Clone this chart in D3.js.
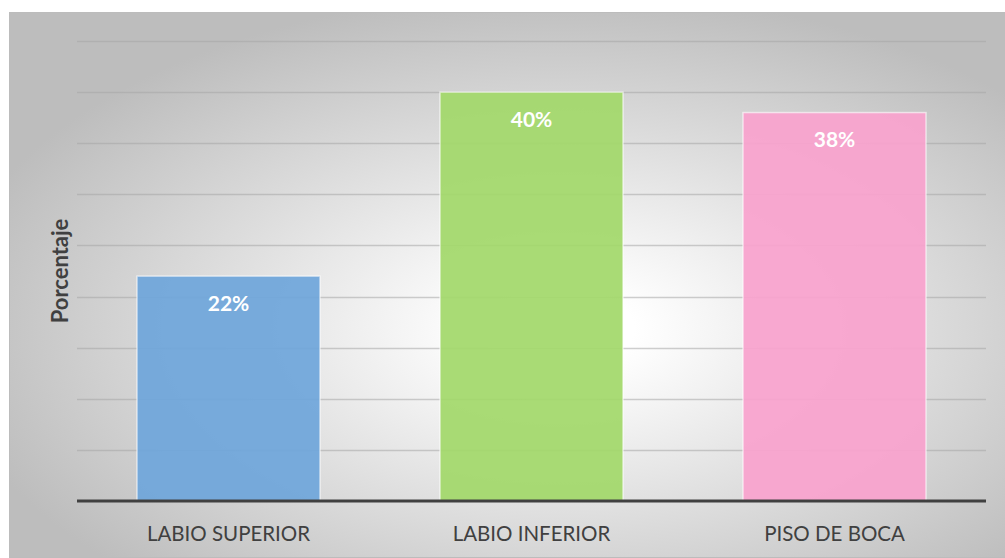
<!DOCTYPE html>
<html>
<head>
<meta charset="utf-8">
<script src="https://cdn.jsdelivr.net/npm/d3@7"></script>
<style>
  body { margin: 0; background: #ffffff; }
  svg { display: block; font-family: Lato, 'Open Sans', sans-serif; }
</style>
</head>
<body>
<svg id="chart" width="1005" height="558"></svg>
<script>
// Data
var categories = ['LABIO SUPERIOR', 'LABIO INFERIOR', 'PISO DE BOCA'];
var values = [22, 40, 38];
var barColors = ['#6fa6da', '#a2d86a', '#f9a3ce'];
var gridTicks = [0, 5, 10, 15, 20, 25, 30, 35, 40, 45];

var svg = d3.select('#chart');

// Background with radial gradient (light middle, gray edges)
var defs = svg.append('defs');
var grad = defs.append('radialGradient')
    .attr('id', 'bg')
    .attr('cx', '55%').attr('cy', '58%').attr('r', '62%');
grad.append('stop').attr('offset', '12%').attr('stop-color', '#ffffff');
grad.append('stop').attr('offset', '100%').attr('stop-color', '#bdbdbd');

svg.append('rect')
    .attr('x', 9.5).attr('y', 12.5)
    .attr('width', 1000).attr('height', 545)
    .attr('fill', 'url(#bg)')
    .attr('stroke', '#bcbcbc')
    .attr('stroke-width', 1);

// Plot area
var plot = { left: 77, right: 986, top: 41, bottom: 501 };

var x = d3.scaleBand()
    .domain(categories)
    .range([plot.left, plot.right])
    .paddingInner(0.396)
    .paddingOuter(0.198);

var y = d3.scaleLinear()
    .domain([0, 45])
    .range([plot.bottom, plot.top]);

// Gridlines
svg.append('g')
    .selectAll('line')
    .data(gridTicks.slice(1))
    .enter()
    .append('line')
    .attr('x1', plot.left)
    .attr('x2', plot.right)
    .attr('y1', function(d) { return Math.round(y(d)) + 0.5; })
    .attr('y2', function(d) { return Math.round(y(d)) + 0.5; })
    .attr('stroke', '#a6a6a6')
    .attr('stroke-opacity', 0.55)
    .attr('stroke-width', 1.3);

// Bars
svg.append('g')
    .selectAll('rect')
    .data(values)
    .enter()
    .append('rect')
    .attr('x', function(d, i) { return x(categories[i]); })
    .attr('y', function(d) { return y(d); })
    .attr('width', x.bandwidth())
    .attr('height', function(d) { return y(0) - y(d); })
    .attr('fill', function(d, i) { return barColors[i]; })
    .attr('fill-opacity', 0.93)
    .attr('stroke', '#ffffff')
    .attr('stroke-opacity', 0.6)
    .attr('stroke-width', 1.5);

// Value labels inside bars
svg.append('g')
    .selectAll('text')
    .data(values)
    .enter()
    .append('text')
    .attr('x', function(d, i) { return x(categories[i]) + x.bandwidth() / 2; })
    .attr('y', function(d) { return y(d) + 29; })
    .attr('text-anchor', 'middle')
    .attr('dominant-baseline', 'middle')
    .attr('fill', '#ffffff')
    .attr('font-weight', 'bold')
    .attr('font-size', 21)
    .text(function(d) { return d + '%'; });

// Baseline axis
var xAxis = d3.axisBottom(x).tickSize(0).tickPadding(25);
var gx = svg.append('g')
    .attr('transform', 'translate(0,' + plot.bottom + ')')
    .call(xAxis);
gx.select('.domain')
    .attr('stroke', '#404040')
    .attr('stroke-width', 3)
    .attr('d', 'M' + plot.left + ',0H' + plot.right);
gx.selectAll('text')
    .attr('font-size', 20.5)
    .attr('font-family', 'Lato, "Open Sans", sans-serif')
    .attr('fill', '#404040');

// Y axis label
svg.append('text')
    .attr('transform', 'translate(68,271)rotate(-90)')
    .attr('text-anchor', 'middle')
    .attr('font-weight', 'bold')
    .attr('font-size', 22)
    .attr('fill', '#404040')
    .text('Porcentaje');
</script>
</body>
</html>
